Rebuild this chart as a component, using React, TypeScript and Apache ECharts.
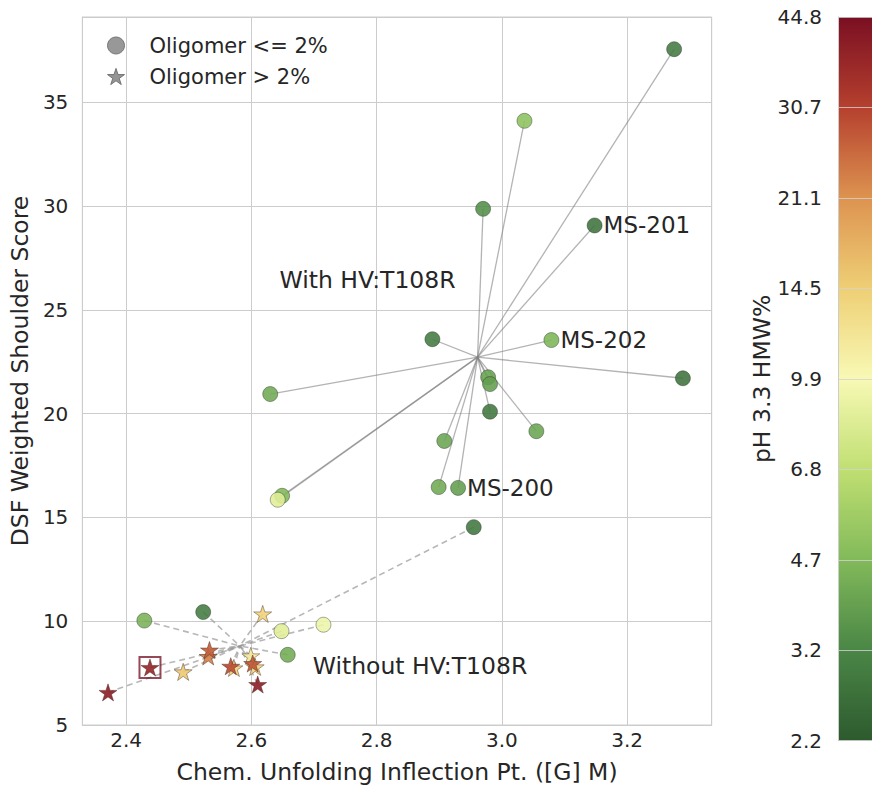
import React, { useEffect, useRef } from 'react';
import * as echarts from 'echarts';

// [x, y, pH 3.3 HMW%, optional label]
const withCircles: [number, number, number, string?][] = [
  [3.275, 37.55, 2.9],
  [3.036, 34.1, 5.0],
  [2.97, 29.86, 3.4],
  [3.148, 29.06, 2.7, 'MS-201'],
  [2.889, 23.58, 2.9],
  [3.079, 23.54, 4.5, 'MS-202'],
  [3.289, 21.7, 2.7],
  [2.978, 21.75, 3.9],
  [2.981, 21.42, 3.8],
  [2.981, 20.09, 2.8],
  [3.055, 19.15, 4.0],
  [2.908, 18.68, 4.0],
  [2.899, 16.46, 4.1],
  [2.93, 16.42, 3.8, 'MS-200'],
  [2.63, 20.94, 4.1],
  [2.649, 16.04, 4.6],
  [2.642, 15.85, 8.5],
];

const withoutCircles: [number, number, number][] = [
  [2.429, 10.03, 4.4],
  [2.523, 10.44, 2.9],
  [2.648, 9.52, 8.5],
  [2.715, 9.83, 9.2],
  [2.658, 8.38, 4.2],
  [2.955, 14.53, 2.8],
];

const withoutStars: [number, number, number][] = [
  [2.618, 10.35, 14],
  [2.531, 8.3, 23],
  [2.533, 8.61, 27],
  [2.438, 7.77, 38],
  [2.491, 7.56, 15],
  [2.572, 7.75, 14],
  [2.567, 7.83, 29],
  [2.599, 8.33, 11.5],
  [2.606, 7.8, 14],
  [2.602, 7.96, 28],
  [2.61, 6.95, 40],
  [2.371, 6.57, 40],
];

const highlighted: [number, number][] = [[2.438, 7.77]];

const annotations: [number, number, string][] = [
  [2.644, 26.42, 'With HV:T108R'],
  [2.697, 7.86, 'Without HV:T108R'],
];

const cbTickLabels = ['2.2', '3.2', '4.7', '6.8', '9.9', '14.5', '21.1', '30.7', '44.8'];
const cbColors = [
  '#2d5a2e',
  '#4a8646',
  '#82ba5a',
  '#c0df72',
  '#f8f9b5',
  '#eecf75',
  '#dd9350',
  '#b5402e',
  '#7a0f22',
];
const HMW_MIN = 2.2;
const HMW_MAX = 44.8;

const STAR =
  'path://M0,-1 L0.2245,-0.309 L0.9511,-0.309 L0.3633,0.118 L0.5878,0.809 L0,0.382 L-0.5878,0.809 L-0.3633,0.118 L-0.9511,-0.309 L-0.2245,-0.309 Z';

const FONT = 'DejaVu Sans';
const TXT = '#262626';

const toT = (h: number) => (8 * Math.log(h / HMW_MIN)) / Math.log(HMW_MAX / HMW_MIN);

function centroid(pts: number[][]): [number, number] {
  let sx = 0;
  let sy = 0;
  pts.forEach((p) => {
    sx += p[0];
    sy += p[1];
  });
  return [sx / pts.length, sy / pts.length];
}

export default function App() {
  const ref = useRef<HTMLDivElement>(null);

  useEffect(() => {
    if (!ref.current) return;
    const chart = echarts.init(ref.current, undefined, { renderer: 'svg' });

    const withPts = withCircles.map((p) => [p[0], p[1]]);
    const withoutPts = [...withoutCircles, ...withoutStars].map((p) => [p[0], p[1]]);
    const cWith = centroid(withPts);
    const cWithout = centroid(withoutPts);

    const circleData = [
      ...withCircles.map((p) => {
        const item: any = { value: [p[0], p[1], toT(p[2])] };
        if (p[3]) {
          item.label = {
            show: true,
            formatter: p[3],
            position: 'right',
            distance: 1,
            fontSize: 23,
            color: TXT,
            opacity: 1,
            fontFamily: FONT,
          };
        }
        return item;
      }),
      ...withoutCircles.map((p) => ({ value: [p[0], p[1], toT(p[2])] })),
    ];
    const starData = withoutStars.map((p) => ({ value: [p[0], p[1], toT(p[2])] }));

    const option: any = {
      animation: false,
      backgroundColor: '#ffffff',
      textStyle: { fontFamily: FONT, color: TXT },
      legend: {
        orient: 'vertical',
        left: 102,
        top: 30,
        itemWidth: 17,
        itemHeight: 17,
        itemGap: 10,
        textStyle: { fontSize: 21, color: TXT, fontFamily: FONT, padding: [0, 0, 0, 20] },
        data: [
          {
            name: 'Oligomer <= 2%',
            icon: 'circle',
            itemStyle: { color: '#8a8a8a', borderColor: '#6a6a6a', borderWidth: 1 },
          },
          {
            name: 'Oligomer > 2%',
            icon: STAR,
            itemStyle: { color: '#8a8a8a', borderColor: '#6a6a6a', borderWidth: 1 },
          },
        ],
      },
      grid: [
        {
          left: 75,
          top: 17,
          width: 636.7,
          height: 723.7,
          show: true,
          borderColor: '#cccccc',
          borderWidth: 1,
          backgroundColor: 'transparent',
        },
        { left: 838, top: 17, width: 40, height: 723.7 },
      ],
      xAxis: [
        {
          type: 'value',
          gridIndex: 0,
          min: 2.33,
          max: 3.335,
          splitNumber: 5,
          name: 'Chem. Unfolding Inflection Pt. ([G] M)',
          nameLocation: 'middle',
          nameGap: 35,
          nameTextStyle: { fontSize: 23.5, color: TXT, fontFamily: FONT },
          axisLine: { show: true, lineStyle: { color: '#cccccc' } },
          axisTick: { show: false },
          splitLine: { show: true, lineStyle: { color: '#cccccc', width: 1 } },
          axisLabel: {
            fontSize: 20,
            color: TXT,
            margin: 5,
            formatter: (v: number) =>
              Math.abs(v * 5 - Math.round(v * 5)) < 1e-6 ? v.toFixed(1) : '',
          },
        },
        { type: 'category', gridIndex: 1, data: [''], show: false },
      ],
      yAxis: [
        {
          type: 'value',
          gridIndex: 0,
          min: 5,
          max: 39.1,
          interval: 5,
          name: 'DSF Weighted Shoulder Score',
          nameLocation: 'middle',
          nameGap: 39,
          nameTextStyle: { fontSize: 23.5, color: TXT, fontFamily: FONT },
          axisLine: { show: true, lineStyle: { color: '#cccccc' } },
          axisTick: { show: false },
          splitLine: { show: true, lineStyle: { color: '#cccccc', width: 1 } },
          axisLabel: {
            fontSize: 20,
            color: TXT,
            margin: 14,
            formatter: (v: number) => (Math.abs(v % 5) < 1e-6 ? String(v) : ''),
          },
        },
        {
          type: 'value',
          gridIndex: 1,
          min: 0,
          max: 8,
          interval: 1,
          z: 3,
          name: 'pH 3.3 HMW%',
          nameLocation: 'middle',
          nameGap: 60,
          nameTextStyle: { fontSize: 23.5, color: TXT, fontFamily: FONT },
          axisLine: { show: true, lineStyle: { color: '#cccccc' } },
          axisTick: { show: false },
          splitLine: { show: true, lineStyle: { color: 'rgba(210,210,210,0.8)', width: 1 } },
          axisLabel: {
            fontSize: 20,
            color: TXT,
            margin: 16,
            formatter: (v: number) => cbTickLabels[Math.round(v)] ?? '',
          },
        },
      ],
      visualMap: {
        type: 'continuous',
        show: false,
        min: 0,
        max: 8,
        dimension: 2,
        seriesIndex: [2, 3],
        inRange: { color: cbColors },
      },
      series: [
        {
          type: 'lines',
          coordinateSystem: 'cartesian2d',
          xAxisIndex: 0,
          yAxisIndex: 0,
          silent: true,
          lineStyle: { color: '#808080', width: 1.3, opacity: 0.6, type: 'solid', curveness: 0 },
          data: withPts.map((p) => ({ coords: [p, cWith] })),
          z: 1,
        },
        {
          type: 'lines',
          coordinateSystem: 'cartesian2d',
          xAxisIndex: 0,
          yAxisIndex: 0,
          silent: true,
          lineStyle: { color: '#999999', width: 1.6, opacity: 0.7, type: [6, 4], curveness: 0 },
          data: withoutPts.map((p) => ({ coords: [p, cWithout] })),
          z: 1,
        },
        {
          name: 'Oligomer <= 2%',
          type: 'scatter',
          xAxisIndex: 0,
          yAxisIndex: 0,
          symbol: 'circle',
          symbolSize: 15,
          itemStyle: { opacity: 0.88, borderColor: 'rgba(30,40,30,0.45)', borderWidth: 1 },
          data: circleData,
          z: 3,
        },
        {
          name: 'Oligomer > 2%',
          type: 'scatter',
          xAxisIndex: 0,
          yAxisIndex: 0,
          symbol: STAR,
          symbolKeepAspect: true,
          symbolSize: 18,
          itemStyle: { opacity: 0.9, borderColor: 'rgba(60,30,20,0.45)', borderWidth: 1 },
          data: starData,
          z: 4,
        },
        {
          type: 'scatter',
          xAxisIndex: 0,
          yAxisIndex: 0,
          symbol: 'rect',
          symbolSize: 21,
          silent: true,
          itemStyle: { color: 'rgba(0,0,0,0)', borderColor: '#7a1a2a', borderWidth: 2 },
          data: highlighted,
          z: 5,
        },
        {
          type: 'scatter',
          xAxisIndex: 0,
          yAxisIndex: 0,
          symbolSize: 1,
          silent: true,
          itemStyle: { color: '#ffffff', opacity: 1 },
          label: {
            show: true,
            position: 'right',
            distance: 0,
            formatter: '{b}',
            fontSize: 23.5,
            color: TXT,
            opacity: 1,
            fontFamily: FONT,
          },
          data: annotations.map((a) => ({ value: [a[0], a[1]], name: a[2] })),
          z: 6,
        },
        {
          type: 'bar',
          xAxisIndex: 1,
          yAxisIndex: 1,
          silent: true,
          barWidth: '100%',
          data: [8],
          itemStyle: {
            color: new echarts.graphic.LinearGradient(
              0,
              1,
              0,
              0,
              cbColors.map((c, i) => ({ offset: i / (cbColors.length - 1), color: c }))
            ),
          },
          z: 1,
        },
      ],
    };

    chart.setOption(option);
    return () => chart.dispose();
  }, []);

  return (
    <div
      ref={ref}
      style={{ position: 'fixed', left: 0, top: 0, width: 872, height: 789, background: '#fff' }}
    />
  );
}
